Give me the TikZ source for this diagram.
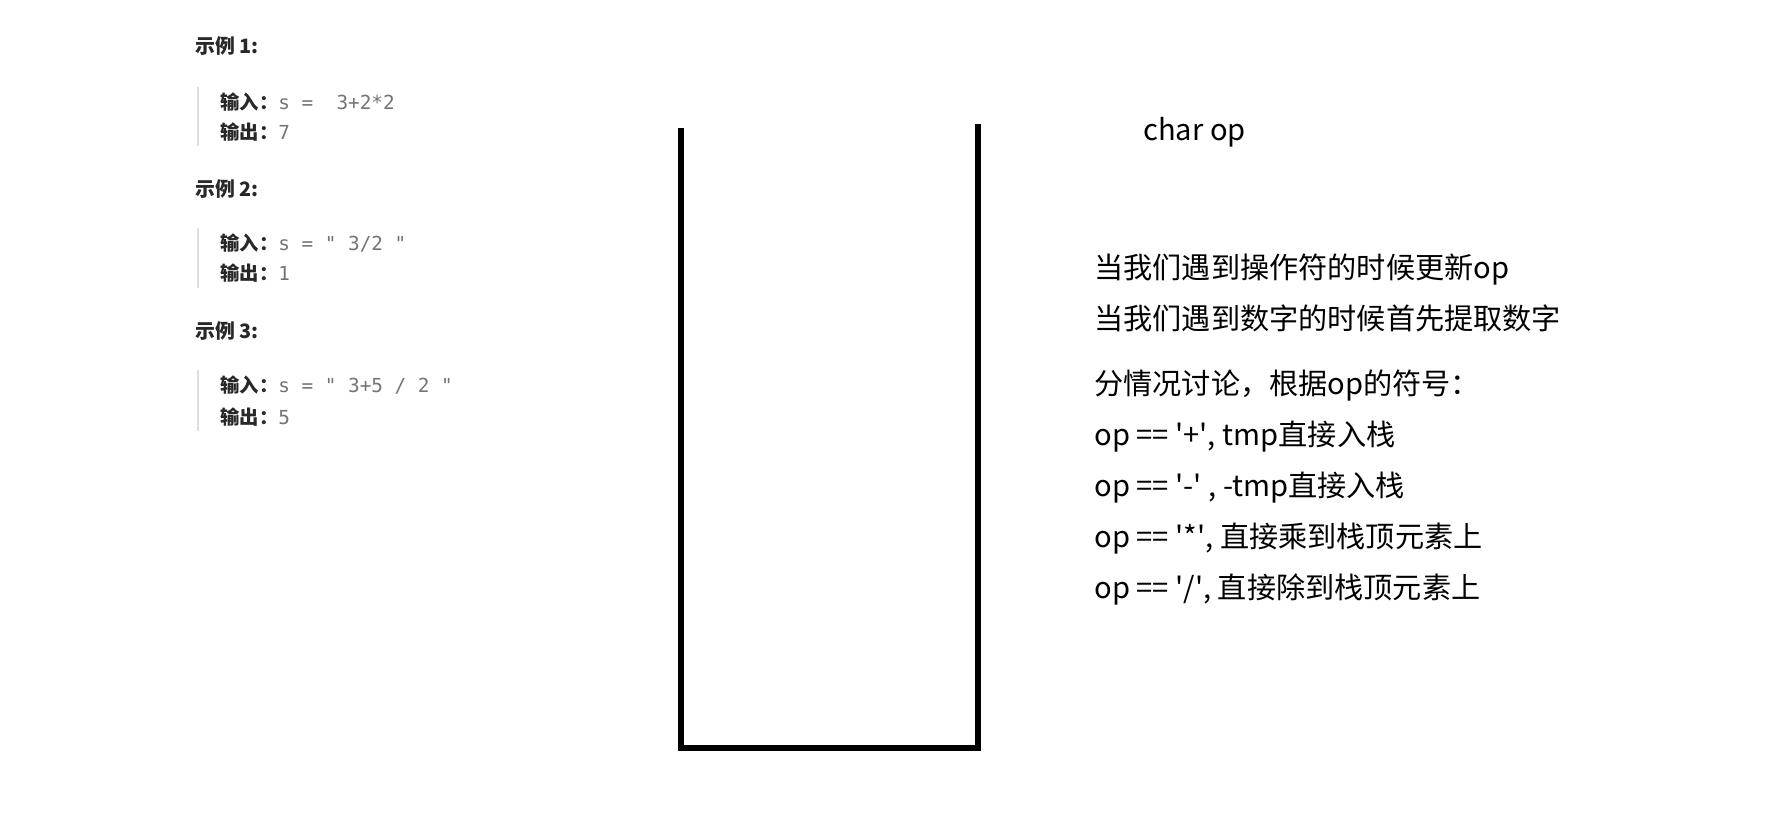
\documentclass[tikz,border=0pt]{standalone}
\usepackage{fontspec}
\setmainfont{Noto Sans CJK SC}
\setmonofont{DejaVu Sans Mono}
\usepackage{xcolor}
\usepackage{tikz}
\usetikzlibrary{positioning}

\definecolor{valgray}{RGB}{115,115,115}
\definecolor{bargray}{RGB}{222,222,222}
\definecolor{labeldark}{RGB}{40,40,40}
\newcommand{\sq}{\textquotesingle}
\newcommand{\dq}{\textquotedbl}
\newcommand{\iolabel}[1]{\textcolor{labeldark}{\bfseries #1}}

\begin{document}
\begin{tikzpicture}[
    x=0.02cm, y=-0.02cm,
    extitle/.style={anchor=west, inner sep=0pt, text=labeldark, font=\fontsize{11.3}{13}\selectfont\bfseries},
    ioline/.style={anchor=west, inner sep=0pt, text=valgray, font=\fontsize{11}{13}\selectfont},
    note/.style={anchor=west, inner sep=0pt, font=\fontsize{16.6}{19}\selectfont},
    quotebar/.style={bargray, line width=1.1pt},
    wall/.style={line width=2.9pt}
]
\useasboundingbox (0,0) rectangle (1771,819);

% Examples (left side)
\node[extitle] (ex1) at (195,46) {示例 1:};
\node[ioline] (in1) at (220,102) {\iolabel{输入：}\texttt{s = \ 3+2*2}};
\node[ioline] (out1) at (220,132) {\iolabel{输出：}\texttt{7}};
\draw[quotebar] (198,87) -- (198,146);

\node[extitle] (ex2) at (195,189) {示例 2:};
\node[ioline] (in2) at (220,243) {\iolabel{输入：}\texttt{s = \dq\ 3/2 \dq}};
\node[ioline] (out2) at (220,273) {\iolabel{输出：}\texttt{1}};
\draw[quotebar] (198,228) -- (198,288);

\node[extitle] (ex3) at (195,331) {示例 3:};
\node[ioline] (in3) at (220,385) {\iolabel{输入：}\texttt{s = \dq\ 3+5 / 2 \dq}};
\node[ioline] (out3) at (220,417) {\iolabel{输出：}\texttt{5}};
\draw[quotebar] (198,370) -- (198,431);

% Stack
\draw[wall] (681,128) -- (681,748) -- (978,748) -- (978,124);

% Notes (right side)
\node[note] (charop) at (1143,132) {char op};
\node[note] (upd) at (1094,270) {当我们遇到操作符的时候更新op};
\node[note] (num) at (1094,318) {当我们遇到数字的时候首先提取数字};
\node[note] (cases) at (1094,386) {分情况讨论，根据op的符号：};
\node[note] (plus) at (1094,437) {op == \sq+\sq, tmp直接入栈};
\node[note] (minus) at (1094,488) {op == \sq-\sq\ , -tmp直接入栈};
\node[note] (times) at (1094,539) {op == \sq*\sq, 直接乘到栈顶元素上};
\node[note] (divide) at (1094,589) {op == \sq/\sq, 直接除到栈顶元素上};

\end{tikzpicture}
\end{document}
